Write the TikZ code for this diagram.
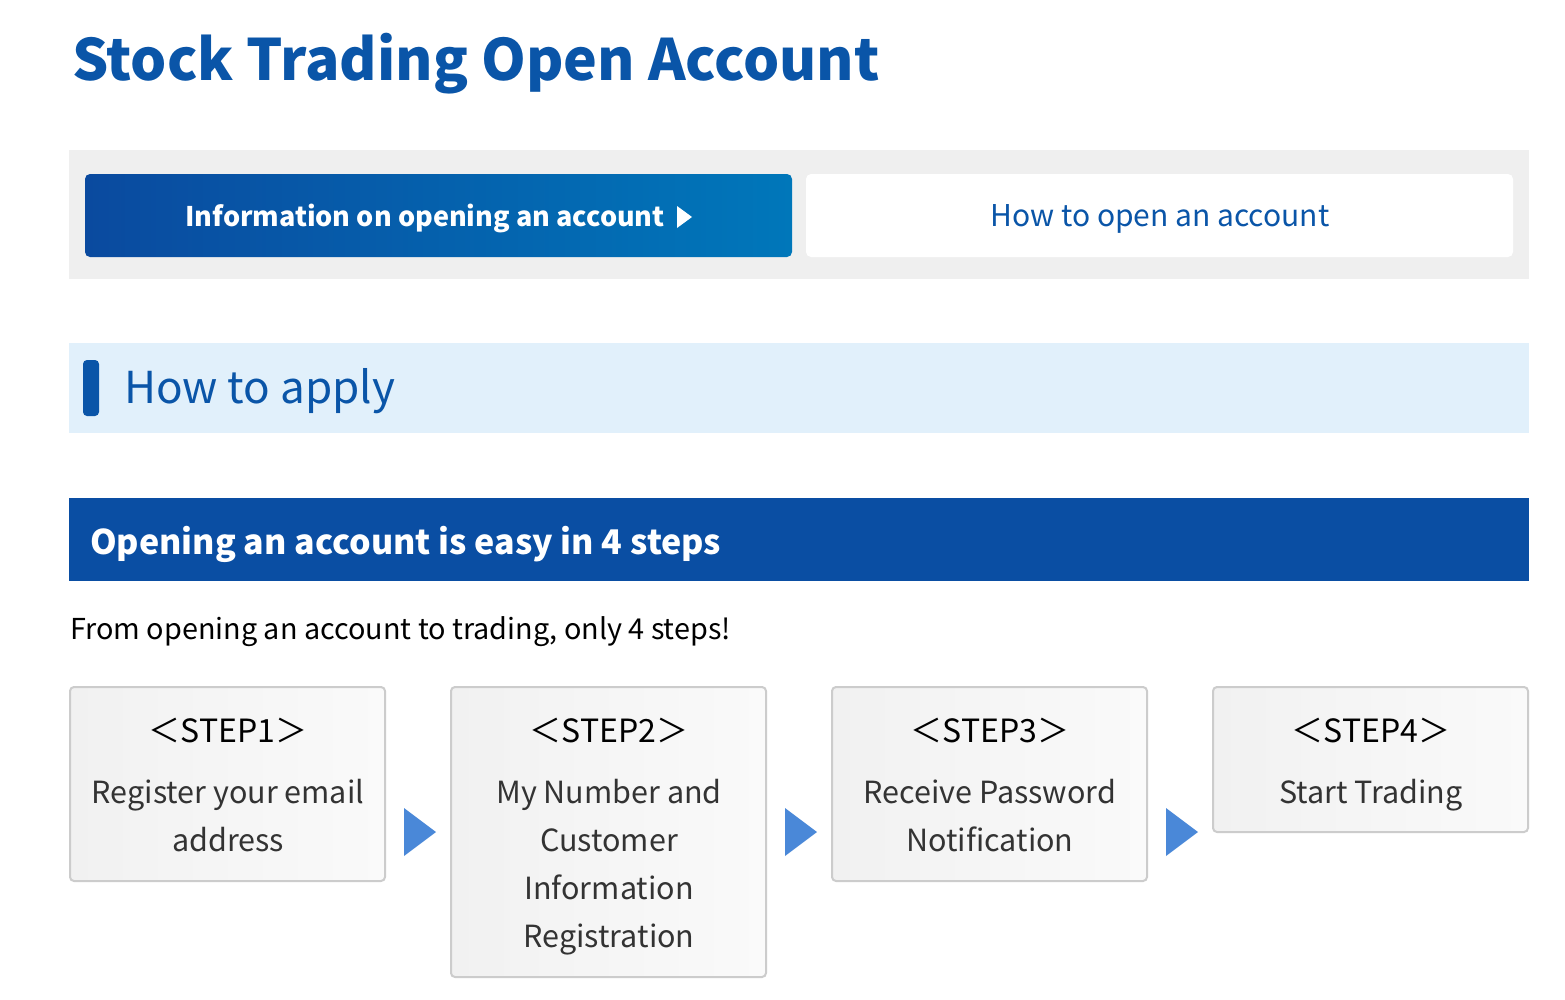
\documentclass[tikz,border=0pt]{standalone}
\usepackage{fontspec}
\setmainfont{Noto Sans CJK JP}
\usetikzlibrary{shapes.geometric,calc}
\definecolor{titleblue}{HTML}{0A55A8}
\definecolor{darkblue}{HTML}{0A4EA3}
\definecolor{btnleft}{HTML}{0A4A9F}
\definecolor{btnright}{HTML}{0077BA}
\definecolor{bandgray}{HTML}{EFEFEF}
\definecolor{lightband}{HTML}{E1F0FB}
\definecolor{boxborder}{HTML}{CCCCCC}
\definecolor{boxfillA}{HTML}{F1F1F1}
\definecolor{boxfillB}{HTML}{FAFAFA}
\definecolor{arrowblue}{HTML}{4A88D8}
\definecolor{textdark}{HTML}{333333}
\tikzset{
  stepbox/.style={draw=boxborder, line width=2pt, rounded corners=4pt, left color=boxfillA, right color=boxfillB},
  steptitle/.style={font=\fontsize{32}{32}\selectfont, text=black, anchor=center},
  steptext/.style={font=\fontsize{30.5}{48}\selectfont, text=textdark, align=center, anchor=north},
  flowarrow/.style={fill=arrowblue, draw=none},
}
\begin{document}
\begin{tikzpicture}[x=1pt,y=-1pt]
\useasboundingbox (0,0) rectangle (1565,999);
\fill[white] (0,0) rectangle (1565,999);
% title
\node[anchor=base west, inner sep=0, text=titleblue, font=\fontsize{57}{57}\selectfont\bfseries] (title) at (72,80) {Stock Trading Open Account};
% tab band
\fill[bandgray] (69,150) rectangle (1529,279);
\shade[left color=btnleft, right color=btnright, rounded corners=5pt] (85,174) rectangle (792,257);
\node[text=white, font=\fontsize{27}{27}\selectfont\bfseries, anchor=center] (tab1) at (425,219) {Information on opening an account};
\coordinate (tri) at (684,217);
\fill[white] ($(tri)+(-7,-11)$) -- ($(tri)+(8,0)$) -- ($(tri)+(-7,11)$) -- cycle;
\fill[white, rounded corners=5pt] (806,174) rectangle (1513,257);
\node[text=titleblue, font=\fontsize{30}{30}\selectfont, anchor=center] (tab2) at (1160,219) {How to open an account};
% how to apply
\fill[lightband] (69,343) rectangle (1529,433);
\fill[titleblue, rounded corners=4pt] (83,360) rectangle (99,416);
\node[anchor=west, inner sep=0, text=titleblue, font=\fontsize{44}{44}\selectfont] (apply) at (124,391) {How to apply};
% steps band
\fill[darkblue] (69,498) rectangle (1529,581);
\node[anchor=west, inner sep=0, text=white, font=\fontsize{34}{34}\selectfont\bfseries] (easy) at (90,544) {Opening an account is easy in 4 steps};
\node[anchor=west, inner sep=0, text=black, font=\fontsize{28.8}{28.8}\selectfont] (from) at (70,632) {From opening an account to trading, only 4 steps!};
% step boxes
\draw[stepbox] (70,687) rectangle (385,881);
\draw[stepbox] (451,687) rectangle (766,977);
\draw[stepbox] (832,687) rectangle (1147,881);
\draw[stepbox] (1213,687) rectangle (1528,832);
\node[steptitle] (s1) at (228,730) {＜STEP1＞};
\node[steptitle] (s2) at (609,730) {＜STEP2＞};
\node[steptitle] (s3) at (990,730) {＜STEP3＞};
\node[steptitle] (s4) at (1371,730) {＜STEP4＞};
\node[steptext] (t1) at (228,776) {Register your email\\address};
\node[steptext] (t2) at (609,776) {My Number and\\Customer\\Information\\Registration};
\node[steptext] (t3) at (990,776) {Receive Password\\Notification};
\node[steptext] (t4) at (1371,776) {Start Trading};
% arrows
\fill[flowarrow] (404,808) -- (436,832) -- (404,856) -- cycle;
\fill[flowarrow] (785,808) -- (817,832) -- (785,856) -- cycle;
\fill[flowarrow] (1166,808) -- (1198,832) -- (1166,856) -- cycle;
\end{tikzpicture}
\end{document}
